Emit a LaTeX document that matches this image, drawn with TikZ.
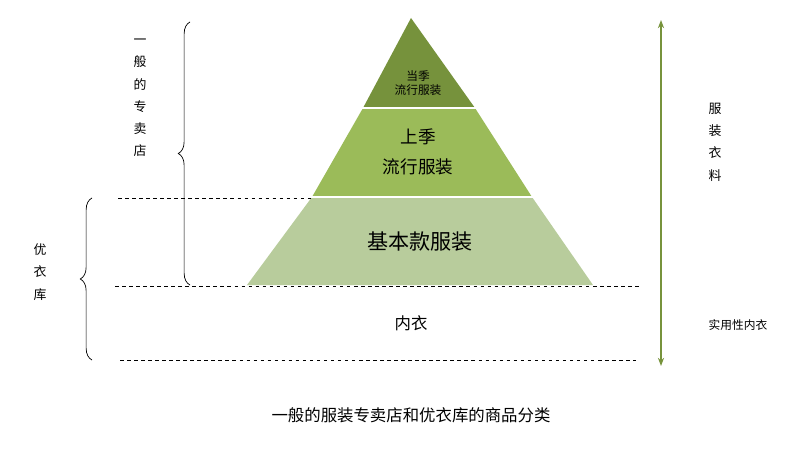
\documentclass[tikz,border=0pt]{standalone}
\usepackage{fontspec}
\setmainfont{Noto Sans CJK SC}
\usetikzlibrary{decorations.pathreplacing,arrows.meta}
\definecolor{gA}{HTML}{76923C}
\definecolor{gB}{HTML}{9BBB59}
\definecolor{gC}{HTML}{B8CC9C}
\definecolor{arr}{HTML}{77933C}
\tikzset{dl/.style={dashed,black,line width=0.6pt},
 br/.style={decorate,decoration={brace,amplitude=10pt},line width=0.6pt},
 vt/.style={align=center,font=\fontsize{11}{19}\selectfont}}
\begin{document}
\begin{tikzpicture}[x=0.03cm,y=-0.03cm]
\useasboundingbox (0,0) rectangle (812,451);
\fill[gC] (312,197) -- (532,197) -- (593,285) -- (247,285) -- cycle;
\fill[gB] (363,108) -- (475,108) -- (532,197) -- (312,197) -- cycle;
\fill[gA] (411,18) -- (475,108) -- (363,108) -- cycle;
\draw[white,line width=1.2pt] (362,108) -- (476,108) (311,197) -- (533,197);
\node (t1) at (418,83) {\fontsize{10}{18}\selectfont\shortstack{当季\\流行服装}};
\node (t2) at (418,152) [align=center,font=\fontsize{15}{26}\selectfont] {上季\\流行服装};
\node (t3) at (420,242) [font=\fontsize{18}{20}\selectfont] {基本款服装};
\node (t4) at (411,323) [font=\fontsize{14}{16}\selectfont] {内衣};
\draw[dl] (118,198) -- (312,198);
\draw[dl] (115,286) -- (640,286);
\draw[dl] (120,360) -- (636,360);
\draw[br] (190,285) -- (190,22);
\draw[br] (92,360) -- (92,198);
\node[vt] (l1) at (140,98) {一\\般\\的\\专\\卖\\店};
\node[vt] (l2) at (40,272) {优\\衣\\库};
\coordinate (up) at (661,20);
\coordinate (dn) at (661,366);
\draw[arr,line width=1.5pt,{Stealth[length=7pt]}-{Stealth[length=7pt]}] (up) -- (dn);
\node[vt] (r1) at (715,142) {服\\装\\衣\\料};
\node (r2) at (738,325) [font=\fontsize{10}{12}\selectfont] {实用性内衣};
\node (cap) at (411,415) [font=\fontsize{14}{16}\selectfont] {一般的服装专卖店和优衣库的商品分类};
\end{tikzpicture}
\end{document}
